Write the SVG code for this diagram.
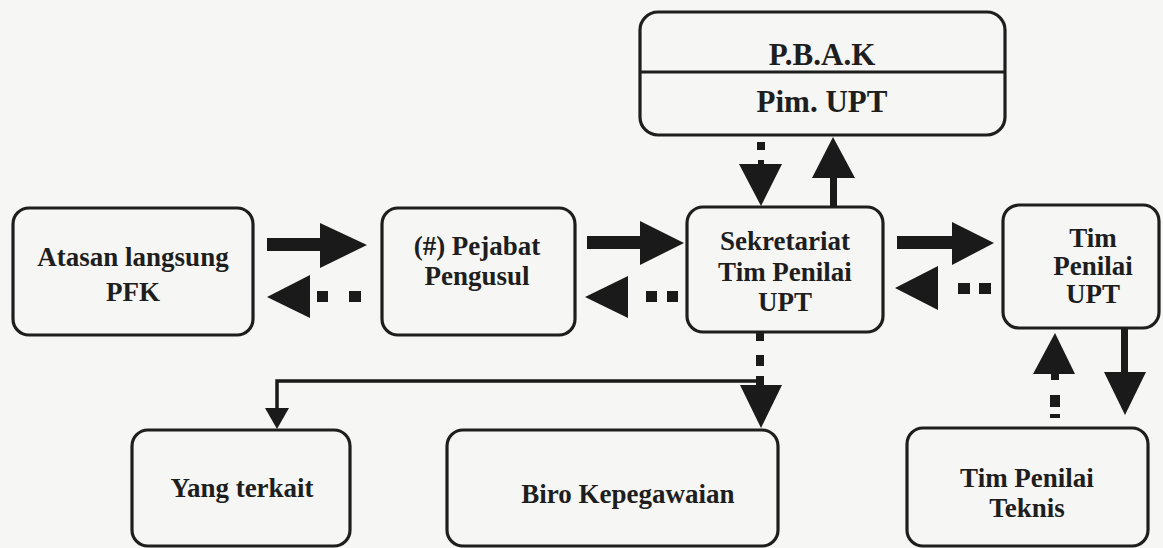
<svg xmlns="http://www.w3.org/2000/svg" width="1163" height="548" viewBox="0 0 1163 548">
<style>
.box{fill:#f6f6f4;stroke:#1e1e1e;stroke-width:3.2}
.t{font-family:"Liberation Serif","Times New Roman",serif;font-weight:bold;font-size:27px;fill:#1e1e1e;text-anchor:middle}
.tb{font-size:31px}
.a{fill:#1a1a1a;stroke:none}
.ln{fill:none;stroke:#1a1a1a;stroke-width:3.5}
</style>
<rect width="1163" height="548" fill="#f6f6f4"/>
<g id="pbak">
<rect class="box" x="640" y="12" width="365" height="123" rx="18"/>
<line x1="640" y1="72" x2="1005" y2="72" stroke="#1e1e1e" stroke-width="3.2"/>
<text class="t tb" x="822" y="65">P.B.A.K</text>
<text class="t tb" x="822" y="112">Pim. UPT</text>
</g>
<g id="atasan">
<rect class="box" x="13" y="208" width="240" height="127" rx="16"/>
<text class="t" x="133" y="266">Atasan langsung</text>
<text class="t" x="133" y="301">PFK</text>
</g>
<g id="pejabat">
<rect class="box" x="382" y="208" width="193" height="127" rx="16"/>
<text class="t" x="477" y="255">(#) Pejabat</text>
<text class="t" x="477" y="285">Pengusul</text>
</g>
<g id="sekretariat">
<rect class="box" x="687" y="207" width="196" height="125" rx="16"/>
<text class="t" x="785" y="250">Sekretariat</text>
<text class="t" x="785" y="281">Tim Penilai</text>
<text class="t" x="785" y="311">UPT</text>
</g>
<g id="timpenilai">
<rect class="box" x="1003" y="205" width="156" height="123" rx="16"/>
<text class="t" x="1093" y="247">Tim</text>
<text class="t" x="1093" y="275">Penilai</text>
<text class="t" x="1093" y="303">UPT</text>
</g>
<g id="yangterkait">
<rect class="box" x="132" y="430" width="218" height="116" rx="16"/>
<text class="t" x="242" y="497">Yang terkait</text>
</g>
<g id="biro">
<rect class="box" x="447" y="430" width="331" height="116" rx="16"/>
<text class="t" x="628" y="503">Biro Kepegawaian</text>
</g>
<g id="teknis">
<rect class="box" x="907" y="428" width="241" height="118" rx="16"/>
<text class="t" x="1027" y="487">Tim Penilai</text>
<text class="t" x="1027" y="517">Teknis</text>
</g>
<g id="connectors">
<!-- Atasan -> Pejabat -->
<rect class="a" x="267" y="238" width="55" height="13"/>
<polygon class="a" points="320,223 367,245 320,268"/>
<!-- Pejabat -> Atasan dotted -->
<polygon class="a" points="267,297 310,275 310,318"/>
<rect class="a" x="317" y="291" width="11" height="11"/>
<rect class="a" x="349" y="291" width="12" height="11"/>
<!-- Pejabat -> Sekretariat -->
<rect class="a" x="587" y="236" width="55" height="13"/>
<polygon class="a" points="640,221 684,243 640,265"/>
<!-- Sekretariat -> Pejabat dotted -->
<polygon class="a" points="585,297 628,276 628,318"/>
<rect class="a" x="646" y="291" width="11" height="11"/>
<rect class="a" x="667" y="291" width="11" height="11"/>
<!-- Sekretariat -> Tim Penilai -->
<rect class="a" x="897" y="236" width="57" height="13"/>
<polygon class="a" points="952,222 994,243 952,265"/>
<!-- Tim Penilai -> Sekretariat dotted -->
<polygon class="a" points="895,288 938,266 938,310"/>
<rect class="a" x="958" y="283" width="12" height="11"/>
<rect class="a" x="979" y="283" width="12" height="11"/>
<!-- Sekretariat -> PBAK -->
<rect class="a" x="830" y="176" width="7" height="31"/>
<polygon class="a" points="812,178 833,137 855,178"/>
<!-- PBAK -> Sekretariat dotted -->
<rect class="a" x="757" y="142" width="8" height="8"/>
<rect class="a" x="758" y="160" width="6" height="4"/>
<polygon class="a" points="739,164 782,164 761,206"/>
<!-- Sekretariat -> Biro dotted, branch to Yang terkait -->
<rect class="a" x="756" y="333" width="8" height="8"/>
<rect class="a" x="756" y="355" width="8" height="11"/>
<polyline class="ln" points="760,381 277,381 277,410"/>
<rect class="a" x="756" y="376" width="8" height="9"/>
<polygon class="a" points="740,385 782,385 761,428"/>
<polygon class="a" points="265,408 289,408 277,429"/>
<!-- Tim Penilai -> Teknis -->
<rect class="a" x="1121" y="327" width="7" height="47"/>
<polygon class="a" points="1104,372 1146,372 1125,415"/>
<!-- Teknis -> Tim Penilai dotted -->
<polygon class="a" points="1033,374 1055,333 1075,374"/>
<rect class="a" x="1051" y="372" width="8" height="8"/>
<rect class="a" x="1050" y="395" width="10" height="12"/>
<rect class="a" x="1050" y="414" width="10" height="4"/>
</g>
</svg>
